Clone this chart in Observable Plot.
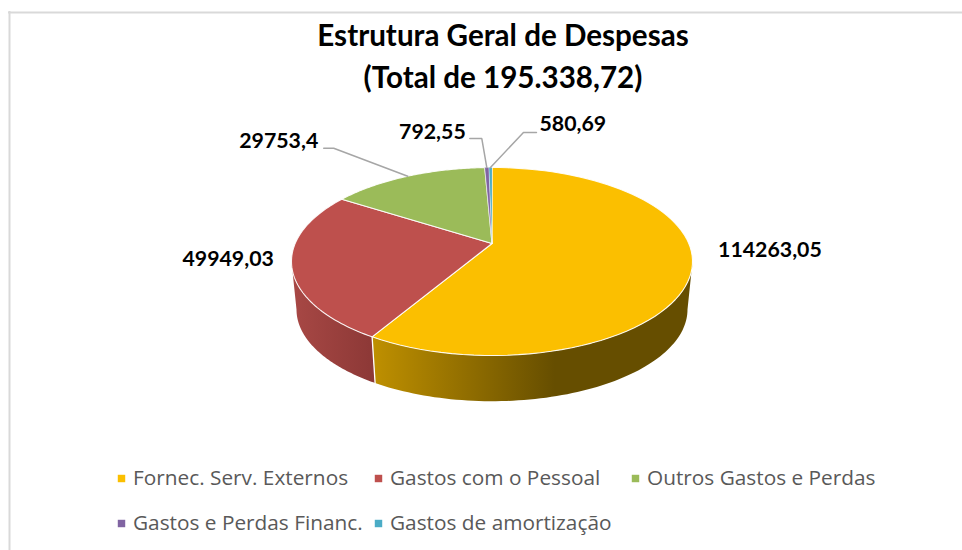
<!DOCTYPE html>
<html lang="pt">
<head>
<meta charset="utf-8">
<script src="https://cdn.jsdelivr.net/npm/d3@7"></script>
<script src="https://cdn.jsdelivr.net/npm/@observablehq/plot@0.6"></script>
<style>html,body{margin:0;padding:0;background:#fff;overflow:hidden}svg{display:block}</style>
</head>
<body>
<div id="chart"></div>
<script>
// Data
const categories = ["Fornec. Serv. Externos","Gastos com o Pessoal","Outros Gastos e Perdas","Gastos e Perdas Financ.","Gastos de amortização"];
const values = [114263.05, 49949.03, 29753.4, 792.55, 580.69];
const valueLabels = ["114263,05","49949,03","29753,4","792,55","580,69"];
const colors = ["#FBBF00","#BE504D","#9BBB59","#8064A2","#4BACC6"];
const titleLines = ["Estrutura Geral de Despesas","(Total de 195.338,72)"];

// Presentation
const W = 962, H = 550;
const persp = {cx:491.5, cy:243, A:196.8, B:90.55, k:0.1915};
const depth = {scale:0.975, y:291.5};
const TAU = 2*Math.PI, total = d3.sum(values);
const proj = (t, s=1, y0=persp.cy) => {
  const u = Math.sin(t), v = Math.cos(t), w = 1 + persp.k*v;
  return {x: persp.cx + s*persp.A*u/w, y: y0 - s*persp.B*v/w};
};
let acc = 0;
const slices = values.map((v,i)=>{ const a0 = acc/total*TAU; acc += v; return {i, a0, a1: acc/total*TAU, mid:(acc-v/2)/total*TAU}; });
const arc = (a0,a1,s,y0,n=80)=>d3.range(n+1).map(j=>proj(a0+(a1-a0)*j/n,s,y0));
const visibleFrom = Math.acos(-persp.k), visibleTo = TAU - visibleFrom;

// Side walls (only the front-facing part of each slice)
const walls = [
  {id:"wall0", a0:visibleFrom, a1:slices[0].a1},
  {id:"wall1", a0:slices[1].a0, a1:visibleTo}
];
const wallPoly = w => [...arc(w.a0,w.a1,1,persp.cy), ...arc(w.a0,w.a1,depth.scale,depth.y).reverse()];
const boundary = [proj(slices[1].a0), proj(slices[1].a0,depth.scale,depth.y)];

// Leader geometry and label offsets relative to each slice's rim anchor
const labelCfg = [
  {dx:78, dy:-18, leader:null},
  {dx:-63.5, dy:-6, leader:null},
  {dx:-129, dy:-35, anchor:"middle", leader:[[-74,-28],[-84,-28]]},
  {dx:-21, dy:-35, anchor:"end", leader:[[-5,-29],[-17,-29]]},
  {dx:49, dy:-43, anchor:"start", leader:[[33,-35],[46,-35]]}
];
const legendRows = [
  {i:0,x:132.5,y:478},{i:1,x:389.5,y:478},{i:2,x:646.5,y:478},
  {i:3,x:132.5,y:523},{i:4,x:389.5,y:523}
];
const labelData = slices.map(s=>{ const p=proj(s.mid), c=labelCfg[s.i];
  return {x:p.x+c.dx, y:p.y+c.dy, text:valueLabels[s.i], anchor:c.anchor||"middle"}; });
const leaders = slices.filter(s=>labelCfg[s.i].leader).map(s=>{ const p=proj(s.mid);
  return [p, ...labelCfg[s.i].leader.map(([dx,dy])=>({x:p.x+dx,y:p.y+dy}))]; });

const defs = () => {
  const ns = "http://www.w3.org/2000/svg";
  const d = document.createElementNS(ns,"defs");
  const grads = [
    {id:"wall0", stops:[[0,"#BF9000"],[0.57,"#664E00"],[1,"#664E00"]]},
    {id:"wall1", stops:[[0,"#A84845"],[1,"#8C3836"]]}
  ];
  for (const g of grads){
    const lg = document.createElementNS(ns,"linearGradient");
    lg.setAttribute("id",g.id); lg.setAttribute("x1","0"); lg.setAttribute("x2","1"); lg.setAttribute("y1","0"); lg.setAttribute("y2","0");
    for (const [o,c] of g.stops){ const st=document.createElementNS(ns,"stop"); st.setAttribute("offset",o); st.setAttribute("stop-color",c); lg.appendChild(st); }
    d.appendChild(lg);
  }
  return d;
};

const chart = Plot.plot({
  width:W, height:H, margin:0,
  x:{domain:[0,W],range:[0,W],axis:null},
  y:{domain:[0,H],range:[0,H],axis:null},
  style:{background:"#fff"},
  marks:[
    defs,
    Plot.ruleY([12],{x1:8,x2:W,stroke:"#d9d9d9",strokeWidth:2}),
    Plot.ruleX([9],{y1:11,y2:H,stroke:"#d9d9d9",strokeWidth:2}),
    ...walls.map(w=>Plot.line(wallPoly(w),{x:"x",y:"y",curve:"linear-closed",fill:`url(#${w.id})`,stroke:"none"})),
    Plot.line(boundary,{x:"x",y:"y",stroke:"#fff",strokeWidth:1.3}),
    ...slices.map(s=>Plot.line([{x:persp.cx,y:persp.cy},...arc(s.a0,s.a1,1,persp.cy)],
      {x:"x",y:"y",curve:"linear-closed",fill:colors[s.i],stroke:"#fff",strokeWidth:s.i>2?0.6:1.1,strokeOpacity:s.i>2?0.7:0.9,strokeLinejoin:"round"})),
    ...leaders.map(l=>Plot.line(l,{x:"x",y:"y",stroke:"#A6A6A6",strokeWidth:1.5,strokeLinejoin:"miter"})),
    ...labelData.map(d=>Plot.text([d],{x:"x",y:"y",text:"text",textAnchor:d.anchor,fontFamily:"Lato",fontWeight:700,fontSize:21.3,fill:"#000"})),
    Plot.text(titleLines,{x:()=>502.5,y:(d,i)=>[36,78][i],text:d=>d,fontFamily:"Lato",fontWeight:700,fontSize:29.6,fill:"#000"}),
    Plot.dot(legendRows,{x:d=>d.x-11.5,y:"y",symbol:"square",r:4.2,fill:d=>colors[d.i],stroke:"none"}),
    Plot.text(legendRows,{x:"x",y:"y",text:d=>categories[d.i],textAnchor:"start",fontFamily:"Open Sans",fontSize:20.8,fill:"#595959"})
  ]
});
document.getElementById("chart").appendChild(chart);
</script>
</body>
</html>
